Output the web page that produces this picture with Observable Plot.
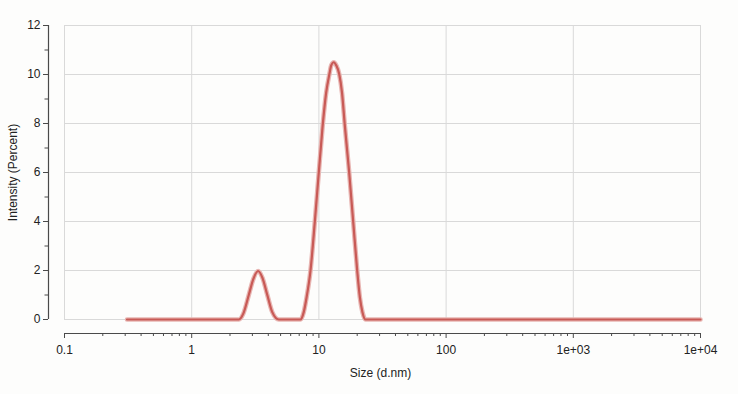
<!DOCTYPE html>
<html>
<head>
<meta charset="utf-8">
<script src="https://cdn.jsdelivr.net/npm/d3@7"></script>
<script src="https://cdn.jsdelivr.net/npm/@observablehq/plot@0.6"></script>
<style>
  html, body { margin: 0; padding: 0; background: #fdfdfc; }
  svg { display: block; }
</style>
</head>
<body>
<div id="chart"></div>
<script>
// Data
const sizes = [0.31, 2.35, 2.55, 2.81, 3.05, 3.33, 3.6, 3.93, 4.3, 4.84,
  7.16, 7.6, 8.0, 8.59, 9.29, 9.98, 10.7, 11.4, 12.1, 12.5, 13.09, 13.7, 14.44, 15.2,
  16.0, 17.3, 18.6, 20.0, 21.0, 22.0, 23.24, 10000];
const intensities = [0, 0, 0.25, 1.0, 1.65, 1.98, 1.7, 1.0, 0.3, 0,
  0, 0.3, 0.9, 2, 4, 6, 7.9, 9.25, 10.02, 10.37, 10.5, 10.37, 10.02, 9.25,
  7.9, 6, 4, 2, 0.9, 0.3, 0, 0];

const xMajor = [0.1, 1, 10, 100, 1000, 10000];
const xLabels = ["0.1", "1", "10", "100", "1e+03", "1e+04"];
const xMinor = [0.2,0.3,0.4,0.5,0.6,0.7,0.8,0.9, 2,3,4,5,6,7,8,9,
  20,30,40,50,60,70,80,90, 200,300,400,500,600,700,800,900,
  2000,3000,4000,5000,6000,7000,8000,9000];
const yMajor = [0, 2, 4, 6, 8, 10, 12];
const yMinor = [1, 3, 5, 7, 9, 11];

const xDomain = [0.1, 10000];
const yDomain = [0, 12];

const data = sizes.map((s, i) => ({size: s, value: intensities[i]}));
const labelMap = new Map(xMajor.map((v, i) => [v, xLabels[i]]));

const axisColor = "#4a4a4a";
const gridColor = "#d9d9d9";
const font = "'Liberation Sans', Arial, sans-serif";

const chart = Plot.plot({
  width: 738,
  height: 394,
  marginLeft: 48,
  marginRight: 38,
  marginTop: 25,
  marginBottom: 75,
  style: {fontFamily: font, fontSize: "12px", background: "#fdfdfc", color: "#222"},
  x: {type: "log", domain: xDomain, insetLeft: 16},
  y: {domain: yDomain},
  marks: [
    // grid / frame
    Plot.ruleY(yMajor, {x1: xDomain[0], x2: xDomain[1], stroke: gridColor, strokeWidth: 1}),
    Plot.ruleX(xMajor, {y1: yDomain[0], y2: yDomain[1], stroke: gridColor, strokeWidth: 1}),
    // y axis line (offset to the left of the frame)
    Plot.ruleX([xDomain[0]], {y1: yDomain[0], y2: yDomain[1], dx: -16, stroke: axisColor, strokeWidth: 1.2}),
    Plot.axisY(yMajor, {anchor: "left", tickSize: 5, tickPadding: 3, stroke: axisColor, fill: "#222", fontSize: 12, label: null}),
    Plot.axisY(yMinor, {anchor: "left", tickSize: 3.5, text: null, stroke: axisColor, label: null}),
    // x axis line (offset below the frame)
    Plot.ruleY([yDomain[0]], {x1: xDomain[0], x2: xDomain[1], dy: 14, stroke: axisColor, strokeWidth: 1.2}),
    Plot.axisX(xMajor, {anchor: "bottom", tickSize: 5, tickPadding: 7, dy: 14, stroke: axisColor, fill: "#222", fontSize: 12,
      tickFormat: d => labelMap.get(d), label: null}),
    Plot.axisX(xMinor, {anchor: "bottom", tickSize: 3, text: null, dy: 14, stroke: axisColor, label: null}),
    // axis titles
    Plot.text(["Size (d.nm)"], {frameAnchor: "bottom", dy: 54, dx: 6, fontSize: 12, fill: "#222", lineAnchor: "middle"}),
    Plot.text(["Intensity (Percent)"], {frameAnchor: "left", dx: -35, rotate: -90, fontSize: 12, fill: "#222", textAnchor: "middle"}),
    // distribution curve: halo + core
    Plot.line(data, {x: "size", y: "value", curve: "monotone-x", stroke: "#e8b6b3", strokeWidth: 4.6}),
    Plot.line(data, {x: "size", y: "value", curve: "monotone-x", stroke: "#c85a56", strokeWidth: 2.2})
  ]
});
document.getElementById("chart").appendChild(chart);
</script>
</body>
</html>
